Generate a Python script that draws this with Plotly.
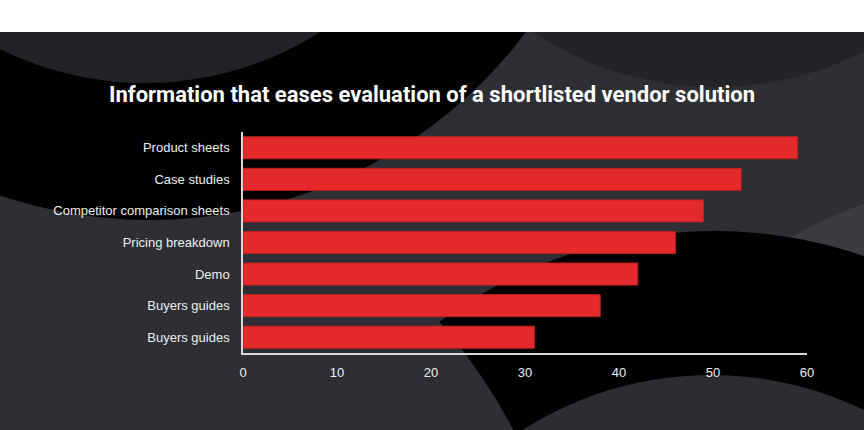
import plotly.graph_objects as go

# ---- data ----
categories = ["Product sheets", "Case studies", "Competitor comparison sheets",
              "Pricing breakdown", "Demo", "Buyers guides", "Buyers guides"]
values = [59, 53, 49, 46, 42, 38, 31]
x_ticks = [0, 10, 20, 30, 40, 50, 60]
title_text = "Information that eases evaluation of a shortlisted vendor solution"

# positions (top to bottom)
ypos = list(range(len(categories) - 1, -1, -1))

W, H = 864, 430
L, R, T, B = 243, 807, 132, 353


def px_x(px):
    return (px - L) / (R - L)


def px_y(py):
    return (B - py) / (B - T)


def circle(cx, cy, r, color):
    return dict(type="circle", xref="paper", yref="paper", layer="below",
                x0=px_x(cx - r), x1=px_x(cx + r),
                y0=px_y(cy + r), y1=px_y(cy - r),
                fillcolor=color, line=dict(width=0))


def rect(x0, y0, x1, y1, color):
    return dict(type="rect", xref="paper", yref="paper", layer="below",
                x0=px_x(x0), x1=px_x(x1), y0=px_y(y1), y1=px_y(y0),
                fillcolor=color, line=dict(width=0))


GRAY = "#2d2f34"
shapes = [
    rect(0, 32, W, H, GRAY),
    circle(1000, 600, 419, "#3a3c42"),
    circle(714, 691, 460, "#000000"),
    circle(0, 700, 580, GRAY),
    circle(150, -250, 470, "#000000"),
    circle(145, -243, 326, "#222327"),
    circle(715, -243, 330, "#232428"),
    circle(711, 726, 351, "#2b2d32"),
    rect(0, 0, W, 32, "#ffffff"),
]

fig = go.Figure(go.Bar(
    x=values, y=ypos, orientation="h",
    marker=dict(color="#e42a2a", line=dict(color="#b82222", width=1)),
    hoverinfo="skip",
))

fig.update_layout(
    width=W, height=H,
    margin=dict(l=L, r=W - R, t=T, b=H - B, pad=0),
    paper_bgcolor="#ffffff",
    plot_bgcolor="rgba(0,0,0,0)",
    bargap=0.3,
    showlegend=False,
    shapes=shapes,
    title=dict(text=title_text, x=0.5, xanchor="center", xref="container",
               y=1 - 94 / H, yanchor="middle", yref="container",
               font=dict(family="Roboto", size=22, color="#ffffff", weight=700)),
    xaxis=dict(range=[0, 60], tickvals=x_ticks, showgrid=False, zeroline=False,
               showline=True, linecolor="#d8d8d8", linewidth=1.5,
               ticks="outside", ticklen=7, tickcolor="rgba(0,0,0,0)",
               tickfont=dict(family="Liberation Sans", size=13, color="#eeeeee")),
    yaxis=dict(range=[-0.5, len(categories) - 0.5], tickvals=ypos,
               ticktext=categories, showgrid=False, zeroline=False,
               showline=True, linecolor="#d8d8d8", linewidth=1.5,
               ticks="outside", ticklen=9, tickcolor="rgba(0,0,0,0)",
               tickfont=dict(family="Liberation Sans", size=13, color="#eeeeee")),
)

fig.write_html("out.html")
